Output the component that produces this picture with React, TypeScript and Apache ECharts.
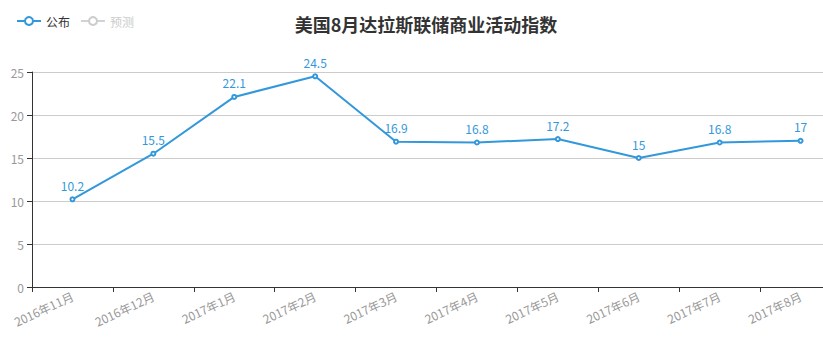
import React, { useEffect, useRef } from "react";
import * as echarts from "echarts";

const categories = ["2016年11月", "2016年12月", "2017年1月", "2017年2月", "2017年3月", "2017年4月", "2017年5月", "2017年6月", "2017年7月", "2017年8月"];
const publishedValues = [10.2, 15.5, 22.1, 24.5, 16.9, 16.8, 17.2, 15, 16.8, 17];
const forecastValues: (number | null)[] = [null, null, null, null, null, null, null, null, null, null];
const titleText = "美国8月达拉斯联储商业活动指数";

export default function App() {
  const ref = useRef<HTMLDivElement>(null);
  useEffect(() => {
    document.body.style.margin = "0";
    const chart = echarts.init(ref.current!, null, { renderer: "svg" });
    const font = "'Noto Sans CJK SC', 'Microsoft YaHei', sans-serif";
    chart.setOption({
      animation: false,
      textStyle: { fontFamily: font },
      title: {
        text: titleText,
        left: "center",
        top: 10,
        textStyle: { fontSize: 18, fontWeight: "bold", color: "#333", fontFamily: font },
      },
      legend: {
        left: 11,
        top: 10,
        itemWidth: 24,
        itemHeight: 10,
        itemGap: 10,
        textStyle: { color: "#333", fontSize: 12 },
        inactiveColor: "#ccc",
        data: ["公布", "预测"],
        selected: { "公布": true, "预测": false },
      },
      grid: { left: 32, right: 11, top: 72, bottom: 71, containLabel: false },
      xAxis: {
        type: "category",
        data: categories,
        boundaryGap: true,
        axisLine: { lineStyle: { color: "#333" } },
        axisTick: { show: true, alignWithLabel: false, lineStyle: { color: "#333" } },
        axisLabel: { rotate: 25, color: "#999", fontSize: 12, interval: 0, margin: 8 },
      },
      yAxis: {
        type: "value",
        min: 0,
        max: 25,
        interval: 5,
        axisLine: { show: true, lineStyle: { color: "#333" } },
        axisTick: { show: true, lineStyle: { color: "#333" } },
        axisLabel: { color: "#999", fontSize: 12, margin: 8 },
        splitLine: { lineStyle: { color: "#ccc" } },
      },
      series: [
        {
          name: "公布",
          type: "line",
          data: publishedValues,
          symbol: "emptyCircle",
          symbolSize: 4,
          itemStyle: { color: "#3398DB" },
          lineStyle: { color: "#3398DB", width: 2 },
          label: { show: true, position: "top", color: "#3398DB", fontSize: 12 },
        },
        {
          name: "预测",
          type: "line",
          data: forecastValues,
          symbol: "emptyCircle",
          symbolSize: 4,
          itemStyle: { color: "#999" },
          label: { show: true, position: "top" },
        },
      ],
    });
    return () => chart.dispose();
  }, []);
  return (
    <div style={{ width: 823, height: 358, overflow: "hidden" }}>
      <div ref={ref} style={{ width: 852, height: 358 }} />
    </div>
  );
}
